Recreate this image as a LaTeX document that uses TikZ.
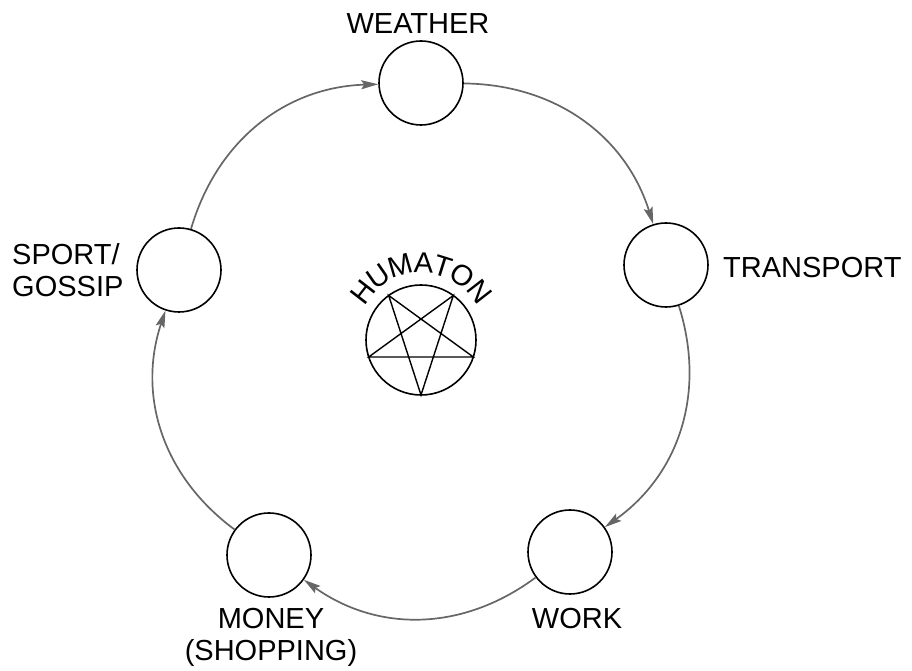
\documentclass[tikz,border=0pt]{standalone}
\usepackage{fontspec}
\setmainfont{Liberation Sans}
\usetikzlibrary{arrows.meta}
\begin{document}
\begin{tikzpicture}[x=1pt,y=1pt,
  station/.style={circle,draw=black,line width=1.6pt,minimum size=84pt,inner sep=0pt},
  lbl/.style={font=\fontsize{29}{32}\selectfont,inner sep=0pt},
  hlet/.style={font=\fontsize{29}{29}\selectfont,inner sep=0pt,anchor=base},
  flow/.style={draw=black!60,line width=1.7pt,-{Stealth[length=17pt,width=9pt,inset=3pt]}}]
\useasboundingbox (0,0) rectangle (912,671);
% stations
\node[station] (w) at (421,588) {};
\node[station] (t) at (666,406) {};
\node[station] (k) at (570,119) {};
\node[station] (m) at (269,116) {};
\node[station] (s) at (179,401) {};
% labels
\node[lbl,anchor=north] (wl) at (418,658) {WEATHER};
\node[lbl,anchor=north west] (tl) at (723,414) {TRANSPORT};
\node[lbl,anchor=north,align=center] (kl) at (577,63) {WORK};
\node[lbl,anchor=north,align=center] (ml) at (271,63) {MONEY\\(SHOPPING)};
\node[lbl,anchor=north west,align=left] (sl) at (12,428) {SPORT/\\GOSSIP};
% humaton
\node[circle,draw=black,line width=1.6pt,minimum size=110pt,inner sep=0pt,outer sep=0pt] (h) at (421,331) {};
\draw[line width=1.4pt,line join=miter] (h.270) -- (h.126) -- (h.342) -- (h.198) -- (h.54) -- cycle;
\coordinate (hc) at (421,334);
\foreach \l/\a [count=\i] in {H/142.2,U/124.8,M/106.1,A/88.0,T/72.6,O/55.9,N/37.8}
  \node[hlet,rotate=\a-90] (hum\i) at ([shift={(\a:64)}]hc) {\l};
% cycle arrows
\draw[flow] (w) to[bend left=36] (t);
\draw[flow] (t) to[bend left=36] (k);
\draw[flow] (k) to[bend left=36] (m);
\draw[flow] (m) to[bend left=36] (s);
\draw[flow] (s) to[bend left=36] (w);
\end{tikzpicture}
\end{document}
